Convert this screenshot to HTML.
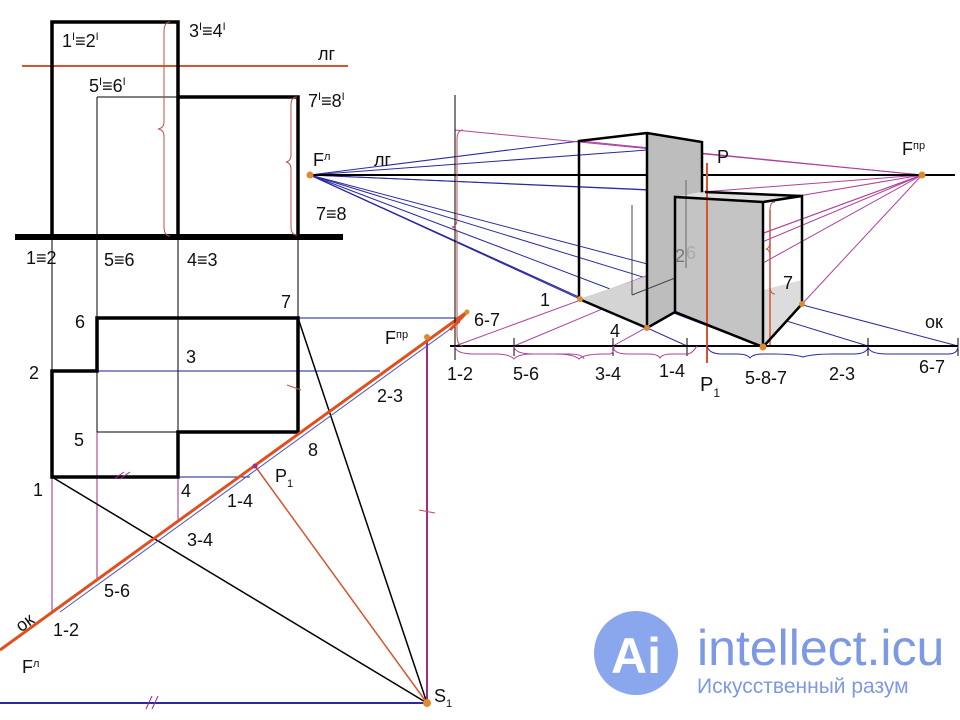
<!DOCTYPE html>
<html><head><meta charset="utf-8"><style>
html,body{margin:0;padding:0;background:#fff;}
svg{display:block;font-family:"Liberation Sans",sans-serif;}
text{fill:#111;}
</style></head><body>
<svg width="960" height="720" viewBox="0 0 960 720" xmlns="http://www.w3.org/2000/svg" font-size="18">
<!-- ===== Left elevation ===== -->
<line x1="22" y1="66" x2="348" y2="66" stroke="#d9532c" stroke-width="2"/>
<line x1="97" y1="97" x2="178" y2="97" stroke="#000" stroke-width="1"/>
<line x1="97" y1="97" x2="97" y2="578" stroke="#000" stroke-width="1"/>
<line x1="52" y1="237" x2="52" y2="371" stroke="#000" stroke-width="1"/>
<line x1="178" y1="237" x2="178" y2="318" stroke="#000" stroke-width="1"/>
<line x1="298" y1="237" x2="298" y2="318" stroke="#000" stroke-width="1"/>
<path d="M52 237 V22 H178 V237 M178 97 H298 V237" fill="none" stroke="#000" stroke-width="3.5"/>
<line x1="15" y1="237" x2="343" y2="237" stroke="#000" stroke-width="6"/>
<path d="M170 22 q-6 0 -6 10 v90 q0 6 -6 7 q6 1 6 7 v90 q0 10 6 10" fill="none" stroke="#c0504d" stroke-width="1"/>
<path d="M297 97 q-6 0 -6 8 v50 q0 6 -5 7 q5 1 5 7 v58 q0 8 6 8" fill="none" stroke="#c0504d" stroke-width="1"/>
<text x="62" y="47">1<tspan font-size="11" dy="-7">I</tspan><tspan dy="7">≡2</tspan><tspan font-size="11" dy="-7">I</tspan></text>
<text x="189" y="37">3<tspan font-size="11" dy="-7">I</tspan><tspan dy="7">≡4</tspan><tspan font-size="11" dy="-7">I</tspan></text>
<text x="318" y="60">лг</text>
<text x="89" y="92">5<tspan font-size="11" dy="-7">I</tspan><tspan dy="7">≡6</tspan><tspan font-size="11" dy="-7">I</tspan></text>
<text x="308" y="107">7<tspan font-size="11" dy="-7">I</tspan><tspan dy="7">≡8</tspan><tspan font-size="11" dy="-7">I</tspan></text>
<text x="313" y="166">F<tspan font-size="11" dy="-6">л</tspan></text>
<text x="316" y="220">7≡8</text>
<text x="26" y="264">1≡2</text>
<text x="104" y="266">5≡6</text>
<text x="187" y="266">4≡3</text>

<!-- ===== Plan ===== -->
<line x1="52" y1="371" x2="52" y2="612" stroke="#9b2d8e" stroke-width="1"/>
<line x1="97" y1="432" x2="97" y2="578" stroke="#9b2d8e" stroke-width="1"/>
<line x1="178" y1="318" x2="178" y2="432" stroke="#000" stroke-width="1"/>
<line x1="178" y1="477" x2="178" y2="520" stroke="#9b2d8e" stroke-width="1"/>
<line x1="97" y1="371" x2="380" y2="371" stroke="#1a1a8c" stroke-width="1"/>
<line x1="97" y1="432" x2="178" y2="432" stroke="#000" stroke-width="1"/>
<line x1="298" y1="318" x2="460" y2="318" stroke="#1a1a8c" stroke-width="1"/>
<line x1="178" y1="477" x2="250" y2="477" stroke="#1a1a8c" stroke-width="1"/>
<path d="M52 371 H97 V318 H298 V432 H178 V477 H52 Z" fill="none" stroke="#000" stroke-width="3.5"/>
<line x1="52" y1="477" x2="427" y2="703" stroke="#000" stroke-width="1.5"/>
<line x1="298" y1="318" x2="427" y2="703" stroke="#000" stroke-width="1.5"/>
<line x1="255" y1="466" x2="427" y2="703" stroke="#d9532c" stroke-width="1.5"/>
<line x1="427" y1="337" x2="427" y2="703" stroke="#9b2d8e" stroke-width="2"/>
<line x1="0" y1="703" x2="427" y2="703" stroke="#2a2aa0" stroke-width="2"/>
<line x1="0" y1="650" x2="467" y2="312" stroke="#e0501f" stroke-width="3"/>
<line x1="60" y1="612" x2="460" y2="322" stroke="#5050c0" stroke-width="1"/>
<line x1="114" y1="479" x2="124" y2="472" stroke="#9b2d8e"/><line x1="120" y1="479" x2="130" y2="472" stroke="#9b2d8e"/>
<line x1="146" y1="709" x2="152" y2="696" stroke="#9b2d8e"/><line x1="152" y1="709" x2="158" y2="696" stroke="#9b2d8e"/>
<line x1="287" y1="385" x2="301" y2="390" stroke="#c0504d"/>
<line x1="419" y1="510" x2="435" y2="513" stroke="#c0504d"/>
<circle cx="427" cy="337" r="3" fill="#e08a30"/>
<circle cx="427" cy="703" r="4" fill="#e08a30"/>
<circle cx="255" cy="466" r="2.5" fill="#9b2d8e"/>
<text x="281" y="308">7</text>
<text x="75" y="328">6</text>
<text x="186" y="363">3</text>
<text x="29" y="379">2</text>
<text x="74" y="446">5</text>
<text x="33" y="496">1</text>
<text x="181" y="497">4</text>
<text x="385" y="344">F<tspan font-size="11" dy="-6">пр</tspan></text>
<text x="377" y="402">2-3</text>
<text x="308" y="456">8</text>
<text x="275" y="482">P<tspan font-size="11" dy="5">1</tspan></text>
<text x="227" y="507">1-4</text>
<text x="187" y="546">3-4</text>
<text x="104" y="597">5-6</text>
<text x="53" y="636">1-2</text>
<text x="15" y="630" transform="rotate(-36 22 622)">ок</text>
<text x="22" y="673">F<tspan font-size="11" dy="-6">л</tspan></text>
<text x="434" y="702">S<tspan font-size="11" dy="5">1</tspan></text>

<!-- ===== Perspective ===== -->
<g stroke-width="1" fill="none">
<g stroke="#2a2aa0">
<line x1="310" y1="175" x2="580" y2="141"/>
<line x1="310" y1="175" x2="647" y2="150"/>
<line x1="310" y1="175" x2="647" y2="190"/>
<line x1="310" y1="175" x2="702" y2="192"/>
<line x1="310" y1="175" x2="580" y2="299"/>
<line x1="310" y1="175" x2="647" y2="328"/>
<line x1="310" y1="175" x2="763" y2="347"/>
<line x1="310" y1="175" x2="958" y2="346"/>
<line x1="310" y1="175" x2="868" y2="346"/>
<line x1="310" y1="175" x2="687" y2="346"/>
</g>
<g stroke="#b0409e">
<line x1="922" y1="175" x2="455" y2="130"/>
<line x1="922" y1="175" x2="580" y2="141"/>
<line x1="922" y1="175" x2="455" y2="346"/>
<line x1="922" y1="175" x2="514" y2="346"/>
<line x1="922" y1="175" x2="613" y2="346"/>
<line x1="922" y1="175" x2="647" y2="276"/>
<line x1="922" y1="175" x2="763" y2="202"/>
<line x1="922" y1="175" x2="802" y2="304"/>
<line x1="922" y1="175" x2="702" y2="192"/>
</g>
</g>
<line x1="310" y1="175" x2="955" y2="175" stroke="#000" stroke-width="2"/>
<line x1="450" y1="346" x2="958" y2="346" stroke="#000" stroke-width="2"/>
<line x1="455" y1="95" x2="455" y2="360" stroke="#000" stroke-width="1"/>
<polygon points="579,299 647,276 647,328" fill="#d4d4d4"/>
<polygon points="647,133 702,142 702,192 675,197 675,312 647,328" fill="#bdbdbd"/>
<polygon points="675,197 763,202 763,347 675,312" fill="#c4c4c4"/>
<polygon points="763,290 802,280 802,304 763,347" fill="#dcdcdc"/>
<polygon points="675,197 705,192 802,196 763,202" fill="#e0e0e0"/>
<line x1="632" y1="205" x2="632" y2="295" stroke="#444" stroke-width="1"/>
<line x1="686" y1="180" x2="686" y2="268" stroke="#666" stroke-width="1"/>
<line x1="632" y1="295" x2="675" y2="278" stroke="#444" stroke-width="1"/>
<line x1="707" y1="163" x2="707" y2="363" stroke="#d9532c" stroke-width="2"/>
<line x1="770" y1="210" x2="770" y2="345" stroke="#d9532c" stroke-width="1.5"/>
<path d="M579 299 V141 L647 133 L702 142 V192 M647 133 V328 M579 299 L647 328 L675 312 L763 347 L802 304 V196 L763 202 V347 M675 312 V197 L763 202 M705 192 L802 196" fill="none" stroke="#000" stroke-width="2.5"/>
<g stroke="#000" stroke-width="1">
<line x1="514" y1="338" x2="514" y2="356"/><line x1="613" y1="338" x2="613" y2="356"/>
<line x1="687" y1="338" x2="687" y2="356"/><line x1="868" y1="338" x2="868" y2="356"/>
<line x1="958" y1="338" x2="958" y2="356"/>
</g>
<path d="M455 346 q0 8 20 8 h20 q15 0 19 5 q4 -5 19 -5 h35 q15 0 16 5" fill="none" stroke="#b0409e"/>
<path d="M514 346 q0 8 20 8 h20 q20 0 25 5 q5 -5 25 -5 h5 q5 0 5 -8" fill="none" stroke="#b0409e"/>
<path d="M613 346 q0 8 15 8 h20 q10 0 12 4 q2 -4 12 -4 h15 q5 0 10 -8" fill="none" stroke="#b0409e"/>
<path d="M707 346 q2 8 15 8 h15 q10 0 13 4 q3 -4 13 -4 h10 q20 0 30 3 q10 -3 30 -3 h20 q15 0 15 -8" fill="none" stroke="#2a2aa0"/>
<path d="M868 346 q0 8 20 8 h60 q10 0 10 -8" fill="none" stroke="#2a2aa0"/>
<path d="M463 130 q-6 0 -6 10 v80 q0 6 -5 7 q5 1 5 7 v100 q0 12 6 12" fill="none" stroke="#c0504d"/>
<path d="M775 202 q-5 0 -5 8 v32 q0 6 -4 7 q4 1 4 7 v30 q0 8 5 8" fill="none" stroke="#c0504d"/>
<line x1="450" y1="330" x2="467" y2="312" stroke="#e0501f" stroke-width="3"/>
<g fill="#e08a30">
<circle cx="310" cy="175" r="3.5"/><circle cx="922" cy="175" r="3.5"/>
<circle cx="580" cy="299" r="3"/><circle cx="647" cy="328" r="3"/>
<circle cx="763" cy="347" r="3.5"/><circle cx="802" cy="304" r="3"/>
<circle cx="467" cy="312" r="2.5"/>
</g>
<text x="374" y="166">лг</text>
<text x="902" y="155">F<tspan font-size="11" dy="-6">пр</tspan></text>
<text x="717" y="163">P</text>
<text x="675" y="262" style="fill:#777">2</text>
<text x="686" y="259" style="fill:#aaa">6</text>
<text x="783" y="289">7</text>
<text x="540" y="306">1</text>
<text x="610" y="337">4</text>
<text x="474" y="326">6-7</text>
<text x="925" y="328">ок</text>
<text x="447" y="380">1-2</text>
<text x="513" y="380">5-6</text>
<text x="595" y="380">3-4</text>
<text x="659" y="377">1-4</text>
<text x="700" y="391" font-size="20">P<tspan font-size="12" dy="6">1</tspan></text>
<text x="745" y="384">5-8-7</text>
<text x="829" y="380">2-3</text>
<text x="919" y="373">6-7</text>

<!-- ===== Logo ===== -->
<circle cx="636" cy="653" r="42" fill="#8aa6ec"/>
<text x="611" y="673" font-size="50" font-weight="bold" style="fill:#fff">Ai</text>
<text x="697" y="665" font-size="50" style="fill:#7d98e4">intellect.icu</text>
<text x="697" y="693" font-size="21" style="fill:#7d98e4">Искусственный  разум</text>
</svg>
</body></html>
